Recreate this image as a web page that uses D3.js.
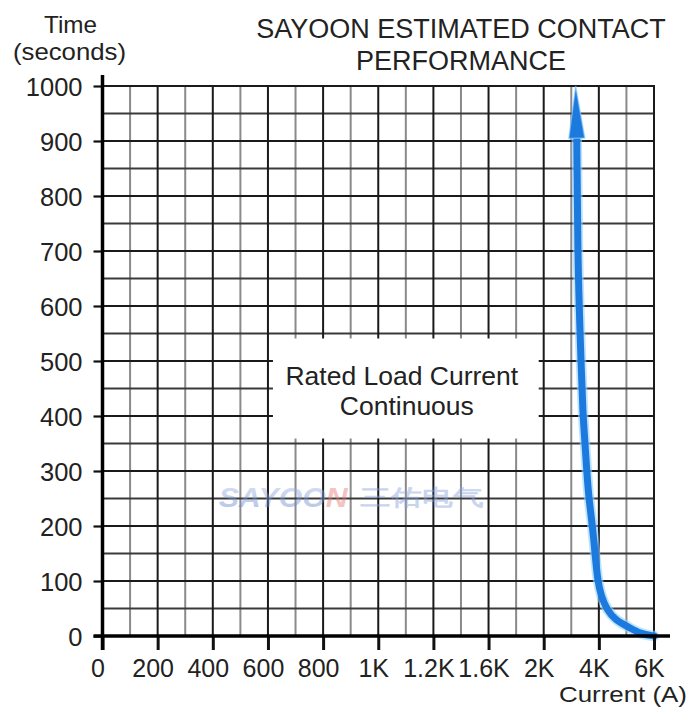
<!DOCTYPE html>
<html>
<head>
<meta charset="utf-8">
<script src="https://cdn.jsdelivr.net/npm/d3@7"></script>
<style>
  html, body { margin: 0; padding: 0; background: #fff; }
  svg { display: block; }
  text { font-family: "Liberation Sans", Arial, sans-serif; fill: #222; }
</style>
</head>
<body>
<div id="chart"></div>
<script>
// ---- data ----
const xTickLabels = ["0","200","400","600","800","1K","1.2K","1.6K","2K","4K","6K"];
const xTickValues = [0,200,400,600,800,1000,1200,1600,2000,4000,6000];
const xMinorValues = [100,300,500,700,900,1100,1400,1800,3000,5000];
const yTickValues = [0,100,200,300,400,500,600,700,800,900,1000];
const yMinorValues = [50,150,250,350,450,550,650,750,850,950];
// curve: current (A) vs time (s)
const curveCurrent = [6000,5500,5120,4600,4300,4080,3960,3880,3775,3630,3560,3490,3415,3380,3235,3200];
const curveTime    = [0,4,15,29,47,73,100,140,198,253,302,356,411,465,665,905];
const arrowTip = {current: 3160, time: 1000};
const arrowBaseTime = 905;
const boxCurrent = [600, 2000];
const boxTime = [350, 550];
const titleLines = ["SAYOON ESTIMATED CONTACT", "PERFORMANCE"];
const yTitleLines = ["Time", "(seconds)"];
const xTitle = "Current (A)";
const boxLines = ["Rated Load Current", "Continuous"];

// ---- layout ----
const W = 691, H = 707;
const pLeft = 102.5, pRight = 654, pTop = 86, pBottom = 636;

const svg = d3.select("#chart").append("svg").attr("width", W).attr("height", H);

const x = d3.scaleLinear()
  .domain(xTickValues)
  .range(xTickValues.map((d, i) => pLeft + i * (pRight - pLeft) / (xTickValues.length - 1)));
const y = d3.scaleLinear().domain([0, 1000]).range([pBottom, pTop]);

// grid: minor verticals (gray)
svg.append("g").selectAll("line").data(xMinorValues).join("line")
  .attr("x1", d => x(d)).attr("x2", d => x(d))
  .attr("y1", pTop).attr("y2", pBottom)
  .attr("stroke", "#8a8a8a").attr("stroke-width", 2);

// horizontal grid lines
svg.append("g").selectAll("line").data(yMinorValues).join("line")
  .attr("x1", pLeft).attr("x2", pRight)
  .attr("y1", d => y(d)).attr("y2", d => y(d))
  .attr("stroke", "#3a3a3a").attr("stroke-width", 1.8);
svg.append("g").selectAll("line").data(yTickValues.filter(d => d > 0)).join("line")
  .attr("x1", pLeft).attr("x2", pRight)
  .attr("y1", d => y(d)).attr("y2", d => y(d))
  .attr("stroke", "#1a1a1a").attr("stroke-width", 2);

// major verticals
svg.append("g").selectAll("line").data(xTickValues.filter(d => d > 0)).join("line")
  .attr("x1", d => x(d)).attr("x2", d => x(d))
  .attr("y1", pTop).attr("y2", pBottom)
  .attr("stroke", "#1a1a1a").attr("stroke-width", 2);

// white box
const inset = 5;
svg.append("rect")
  .attr("x", x(boxCurrent[0]) + inset)
  .attr("y", y(boxTime[1]) + inset)
  .attr("width", x(boxCurrent[1]) - x(boxCurrent[0]) - 2 * inset)
  .attr("height", y(boxTime[0]) - y(boxTime[1]) - 2 * inset)
  .attr("fill", "#fff");
const boxCx = (x(boxCurrent[0]) + x(boxCurrent[1])) / 2;
svg.append("g").selectAll("text").data(boxLines).join("text")
  .attr("x", (d, i) => boxCx - 4 + i * 5)
  .attr("y", (d, i) => y(boxTime[1]) + 51 + i * 30)
  .attr("text-anchor", "middle")
  .attr("font-size", 26.5)
  .text(d => d);

// watermark
const wm = svg.append("g").attr("opacity", 0.45);
const wmDefs = svg.append("defs");
const grad = wmDefs.append("linearGradient").attr("id", "wmg").attr("x1", 0).attr("x2", 0).attr("y1", 0).attr("y2", 1);
grad.append("stop").attr("offset", "0%").attr("stop-color", "#a9bde8");
grad.append("stop").attr("offset", "100%").attr("stop-color", "#5a7cc6");
const wmText = wm.append("text")
  .attr("x", x(200) + 61).attr("y", y(235))
  .attr("font-size", 27).attr("font-weight", "bold").attr("font-style", "italic")
  .attr("textLength", 129).attr("lengthAdjust", "spacingAndGlyphs")
  .style("fill", "url(#wmg)");
wmText.append("tspan").text("SAYOO");
wmText.append("tspan").style("fill", "#e87a74").text("N");
wm.append("text")
  .attr("x", x(1000) - 18).attr("y", y(235) - 2)
  .attr("font-family", "Noto Sans CJK SC")
  .attr("font-size", 22).attr("font-weight", "bold")
  .attr("textLength", 123).attr("lengthAdjust", "spacingAndGlyphs")
  .style("fill", "#8aa3da")
  .text("三佑电气");

// right & top border
svg.append("line").attr("x1", pRight).attr("x2", pRight).attr("y1", pTop - 1).attr("y2", pBottom)
  .attr("stroke", "#1a1a1a").attr("stroke-width", 2);
svg.append("line").attr("x1", pLeft).attr("x2", pRight + 1).attr("y1", pTop).attr("y2", pTop)
  .attr("stroke", "#1a1a1a").attr("stroke-width", 2.2);

// curve
const pts = curveCurrent.map((c, i) => [x(c), y(curveTime[i])]);
const line = d3.line().curve(d3.curveBasis);
svg.append("path").attr("d", line(pts))
  .attr("fill", "none").attr("stroke", "#8fd0ff").attr("stroke-width", 10.5)
  .attr("stroke-linecap", "round").attr("opacity", 0.6);
svg.append("path").attr("d", line(pts))
  .attr("fill", "none").attr("stroke", "#1c7ade").attr("stroke-width", 7)
  .attr("stroke-linecap", "round");
// arrow head
const tipX = x(arrowTip.current), tipY = y(arrowTip.time);
const baseX = x(curveCurrent[curveCurrent.length - 1]), baseY = y(arrowBaseTime);
const ang = Math.atan2(tipY - baseY, tipX - baseX);
const hw = 8;
const head = [
  [tipX, tipY],
  [baseX + hw * Math.cos(ang + Math.PI / 2), baseY + hw * Math.sin(ang + Math.PI / 2)],
  [baseX + hw * Math.cos(ang - Math.PI / 2), baseY + hw * Math.sin(ang - Math.PI / 2)]
];
svg.append("path").attr("d", "M" + head.join("L") + "Z")
  .attr("fill", "#1c7ade").attr("stroke", "#8fd0ff").attr("stroke-width", 1.5).attr("stroke-opacity", 0.6);

// axes
const yAxis = svg.append("g").attr("transform", `translate(${pLeft},0)`)
  .call(d3.axisLeft(y).tickValues(yTickValues).tickSize(9).tickPadding(11).tickFormat(d3.format("d")));
yAxis.select(".domain").remove();
yAxis.selectAll(".tick line").attr("stroke", "#111").attr("stroke-width", 2.2);
yAxis.selectAll(".tick text").attr("font-size", 25.5).attr("fill", "#222")
  .attr("font-family", "Liberation Sans, Arial, sans-serif").attr("dy", "0.36em");

const xAxis = svg.append("g").attr("transform", `translate(0,${pBottom})`)
  .call(d3.axisBottom(x).tickValues(xTickValues).tickSize(14).tickPadding(9)
    .tickFormat((d, i) => xTickLabels[i]));
xAxis.select(".domain").remove();
xAxis.selectAll(".tick line").attr("stroke", "#111").attr("stroke-width", 3);
xAxis.selectAll(".tick text").attr("font-size", 25).attr("fill", "#222")
  .attr("font-family", "Liberation Sans, Arial, sans-serif").attr("dx", -5);

// thick axis lines
svg.append("line").attr("x1", pLeft).attr("x2", pLeft).attr("y1", pTop - 11).attr("y2", pBottom + 14)
  .attr("stroke", "#000").attr("stroke-width", 3.5);
svg.append("line").attr("x1", pLeft - 9).attr("x2", pRight + 16).attr("y1", pBottom).attr("y2", pBottom)
  .attr("stroke", "#000").attr("stroke-width", 3.5);

// titles
svg.append("g").selectAll("text").data(titleLines).join("text")
  .attr("x", 461).attr("y", (d, i) => 38 + i * 32)
  .attr("text-anchor", "middle").attr("font-size", 27)
  .text(d => d);
svg.append("g").selectAll("text").data(yTitleLines).join("text")
  .attr("x", (d, i) => i ? 13 : 44).attr("y", (d, i) => 33 + i * 27)
  .attr("font-size", 24)
  .attr("textLength", (d, i) => i ? 113 : 53).attr("lengthAdjust", "spacingAndGlyphs")
  .text(d => d);
svg.append("text").attr("x", 559).attr("y", 701.5)
  .attr("font-size", 22.5)
  .attr("textLength", 128).attr("lengthAdjust", "spacingAndGlyphs")
  .text(xTitle);
</script>
</body>
</html>
